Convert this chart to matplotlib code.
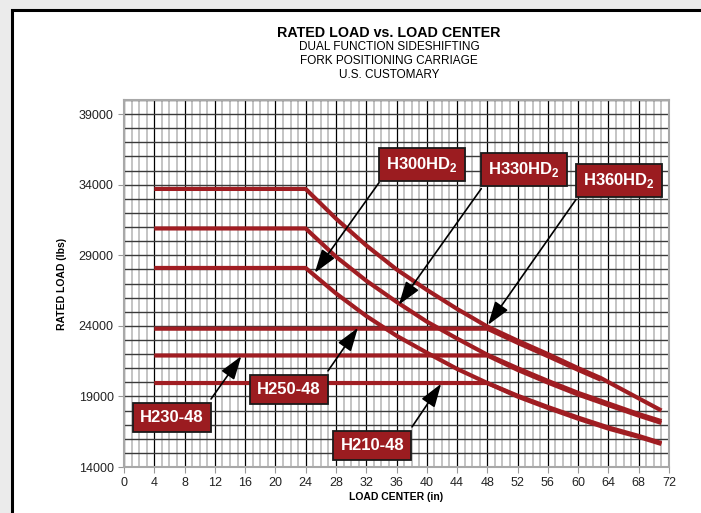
import matplotlib.pyplot as plt
from matplotlib.patches import Rectangle

# load center (in) vs rated load (lbs)
lc_360 = [4, 24, 28, 32, 36, 40, 44, 48, 52, 56, 60, 63, 67, 71]
load_360 = [33700, 33700, 31600, 29700, 28000, 26550, 25200, 23950, 22950, 22000, 21000, 20300, 19150, 18000]
lc_330 = [4, 24, 28, 32, 36, 40, 44, 48, 52, 56, 60, 64, 68, 71]
load_330 = [30900, 30900, 28900, 27200, 25700, 24300, 23100, 21950, 21000, 20100, 19250, 18500, 17750, 17250]
lc_300 = [4, 24, 28, 32, 36, 40, 44, 48, 52, 56, 60, 64, 68, 71]
load_300 = [28100, 28100, 26300, 24700, 23300, 22100, 20950, 19950, 19050, 18250, 17500, 16800, 16200, 15700]

# -48 carriages: flat to 48 in, then run just under the HD2 curves
lc_250 = [4, 48, 52, 56, 60, 63]
load_250 = [23800, 23800, 22800, 21850, 20880, 20180]
lc_230 = [4, 48, 52, 56, 60, 64, 68, 71]
load_230 = [21900, 21900, 20880, 19980, 19130, 18380, 17640, 17120]
lc_210 = [4, 48, 52, 56, 60, 64, 68, 71]
load_210 = [19950, 19950, 18990, 18180, 17420, 16720, 16130, 15630]

x_ticks = list(range(0, 73, 4))
y_ticks = list(range(14000, 39001, 5000))

# callouts: text, box centre, arrow tail, arrow head
labels = ['H300HD$_\\mathregular{2}$', 'H330HD$_\\mathregular{2}$', 'H360HD$_\\mathregular{2}$',
          'H230-48', 'H250-48', 'H210-48']
label_pos = [(39.4, 35460), (52.85, 35070), (65.4, 34290), (6.3, 17480), (21.8, 19500), (32.8, 15490)]
arrow_from = [(33.7, 34150), (47.2, 33720), (59.7, 32940), (11.5, 18820), (26.95, 20810), (38.05, 16840)]
arrow_to = [(25.2, 27760), (36.3, 25490), (48.1, 24070), (15.5, 21850), (30.9, 23860), (41.9, 19900)]

red = '#a01d22'

fig = plt.figure(figsize=(7.01, 5.13), dpi=100, facecolor='#ebebeb')
fig.patches.append(Rectangle((12/701, -0.1), 1.2, 1.1 - 10/513, transform=fig.transFigure,
                             fc='white', ec='black', lw=2.2, zorder=-5))

ax = fig.add_axes([124/701, 1-467/513, 545/701, 367/513])
ax.set_xlim(0, 72)
ax.set_ylim(14000, 40000)

ax.set_xticks(x_ticks)
ax.set_xticks(range(0, 73), minor=True)
ax.set_yticks(y_ticks)
ax.set_yticks(range(14000, 40001, 1000), minor=True)
ax.grid(which='minor', axis='x', color='#c4c4c4', lw=1.4)
ax.grid(which='major', axis='x', color='black', lw=0.9)
ax.grid(which='both', axis='y', color='#3a3a3a', lw=1.0)
ax.set_axisbelow(True)
ax.tick_params(which='minor', length=0)
ax.tick_params(which='major', length=4, color='#999999', labelsize=9, labelcolor='#222222')
for s in ax.spines.values():
    s.set_color('#a8a8a8')
    s.set_linewidth(1.5)
for t in ax.get_xticklabels() + ax.get_yticklabels():
    t.set_family('Liberation Sans')

ax.plot(lc_250, load_250, color=red, lw=3.0, solid_capstyle='butt')
ax.plot(lc_230, load_230, color=red, lw=3.0, solid_capstyle='butt')
ax.plot(lc_210, load_210, color=red, lw=3.0, solid_capstyle='butt')
ax.plot(lc_360, load_360, color=red, lw=3.0, solid_capstyle='butt')
ax.plot(lc_330, load_330, color=red, lw=3.0, solid_capstyle='butt')
ax.plot(lc_300, load_300, color=red, lw=3.0, solid_capstyle='butt')

for i in range(len(labels)):
    ax.annotate('', xy=arrow_to[i], xytext=arrow_from[i],
                arrowprops=dict(arrowstyle='-|>,head_length=0.9,head_width=0.3', color='black',
                                lw=1.2, mutation_scale=16, shrinkA=0, shrinkB=0))
    ax.text(label_pos[i][0], label_pos[i][1], labels[i], ha='center', va='center',
            color='white', fontsize=12, fontweight='bold', family='Liberation Sans',
            bbox=dict(boxstyle='square,pad=0.42', fc='#9b1c20', ec='#1a1a1a', lw=1.3))

ax.set_xlabel('LOAD CENTER (in)', fontsize=7.5, fontweight='bold', family='Liberation Sans', labelpad=2)
ax.set_ylabel('RATED LOAD (lbs)', fontsize=7.5, fontweight='bold', family='Liberation Sans', labelpad=8)

fig.text(389/701, 1-33/513, 'RATED LOAD vs. LOAD CENTER', ha='center', va='center',
         fontsize=10.3, fontweight='bold', family='Liberation Sans')
sub = ['DUAL FUNCTION SIDESHIFTING', 'FORK POSITIONING CARRIAGE', 'U.S. CUSTOMARY']
for i in range(len(sub)):
    fig.text(389/701, 1-(47+14*i)/513, sub[i], ha='center', va='center',
             fontsize=8.5, family='Liberation Sans')

plt.savefig('out.png', dpi=100, facecolor=fig.get_facecolor())
